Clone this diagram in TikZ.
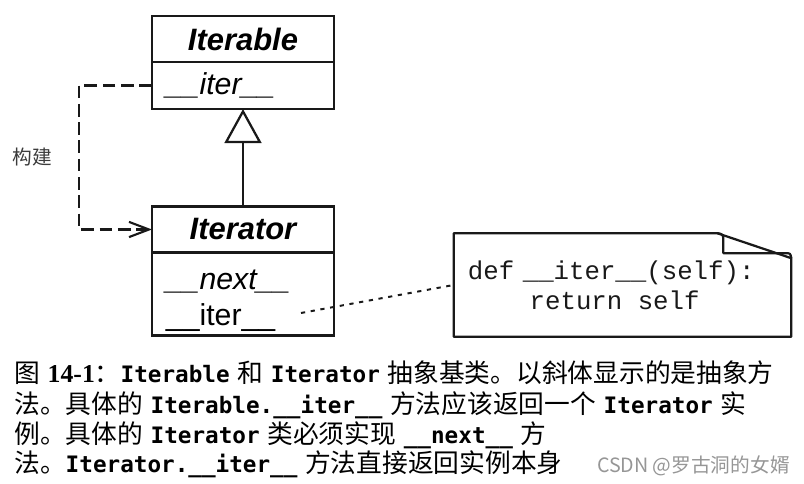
\documentclass[tikz,border=0pt]{standalone}
\usepackage{fontspec}
\setmainfont{Liberation Serif}
\setsansfont{Liberation Sans}
\setmonofont{Liberation Mono}
\newfontfamily\cjk{Noto Sans CJK SC}
\newfontfamily\codebf[Scale=0.88]{DejaVu Sans Mono}
\usetikzlibrary{arrows.meta, positioning, calc}
\definecolor{umldark}{RGB}{25,25,25}
\definecolor{labelgray}{RGB}{60,60,60}
\definecolor{markgray}{RGB}{150,150,150}
\newcommand{\cd}[1]{{\codebf\bfseries #1}}
\newcommand{\gap}{\hspace{0.3em}}

\begin{document}
\begin{tikzpicture}[
    x=0.025cm, y=-0.025cm,
    classtitle/.style={draw=umldark, line width=1.6pt, outer sep=0pt,
        minimum width=4.55cm, minimum height=1.15cm,
        font=\sffamily\bfseries\itshape\fontsize{22}{26}\selectfont},
    classops/.style={draw=umldark, line width=1.6pt, outer sep=0pt,
        text width=3.85cm, inner xsep=0.35cm, inner ysep=0pt, align=left,
        font=\sffamily\fontsize{21.5}{25.6}\selectfont},
    notebox/.style={minimum width=8.425cm, minimum height=2.575cm,
        text width=7.725cm, inner xsep=0.35cm, align=left,
        font=\ttfamily\fontsize{18.3}{21.3}\selectfont, text=umldark},
    noteline/.style={draw=umldark, line width=1.6pt, line join=round},
    inherit/.style={-{Triangle[open, length=0.85cm, width=0.92cm]}, line width=1.6pt, umldark},
    buildline/.style={-{Straight Barb[length=0.5cm, width=0.38cm]}, line width=1.5pt,
        dash pattern=on 9pt off 4pt, umldark},
    noteref/.style={line width=1.4pt, dash pattern=on 3pt off 4pt, umldark},
    captext/.style={anchor=base west, inner sep=0pt,
        font=\cjk\fontsize{18.3}{21}\selectfont}
]
\useasboundingbox (0,0) rectangle (804,484);

% Iterable class
\node[classtitle] (iterable) at (243,39) {Iterable};
\node[classops, minimum height=1.175cm, below=0pt of iterable] (iterableops)
    {\itshape\_\_iter\_\_};

% Iterator class
\node[classtitle] (iterator) at (243,229.5) {Iterator};
\node[classops, minimum height=2.075cm, below=0pt of iterator] (iteratorops)
    {\rule{0pt}{23pt}{\itshape\_\_next\_\_}\\ \_\_iter\_\_};

% note with folded corner
\node[notebox] (note) at (622.5,285)
    {def \_\_iter\_\_(self):\\ \hspace*{2.4em}return\hspace{0.6em}self};
\draw[noteline] (note.north west) -- ($(note.north east)+(-74,0)$)
    -- ($(note.north east)+(0,25)$) -- (note.south east)
    -- (note.south west) -- cycle;
\draw[noteline] ($(note.north east)+(-74,0)$)
    .. controls ($(note.north east)+(-68,1)$) .. ($(note.north east)+(-68,9)$)
    -- ($(note.north east)+(-68,20)$) -- ($(note.north east)+(-6,20)$)
    .. controls ($(note.north east)+(-1,20)$) .. ($(note.north east)+(0,25)$);

\node[font=\cjk\fontsize{14}{16}\selectfont, text=labelgray] (build) at (32,157) {构建};

\coordinate (iterref) at (301,313);

\draw[inherit] (iterator.north) -- (iterableops.south);
\draw[buildline] (iterableops.west) -- ++(-73,0) |- (iterator.west);
\draw[noteref] (iterref) -- (note.west);

% caption
\node[captext] (cap1) at (14,383)
    {图\gap{\rmfamily\bfseries 14-1}：\cd{Iterable}\gap 和\gap\cd{Iterator}\gap 抽象基类。以斜体显示的是抽象方};
\node[captext] (cap2) at (14,414)
    {法。具体的\gap\cd{Iterable.\_\_iter\_\_}\gap 方法应该返回一个\gap\cd{Iterator}\gap 实};
\node[captext] (cap3) at (14,444)
    {例。具体的\gap\cd{Iterator}\gap 类必须实现\gap\cd{\_\_next\_\_}\gap 方};
\node[captext] (cap4) at (14,473)
    {法。\cd{Iterator.\_\_iter\_\_}\gap 方法直接返回实例本身};
\node[anchor=base east, inner sep=0pt, text=markgray,
    font=\cjk\fontsize{14}{16}\selectfont] (mark) at (790,473) {CSDN @罗古洞的女婿};

\end{tikzpicture}
\end{document}
